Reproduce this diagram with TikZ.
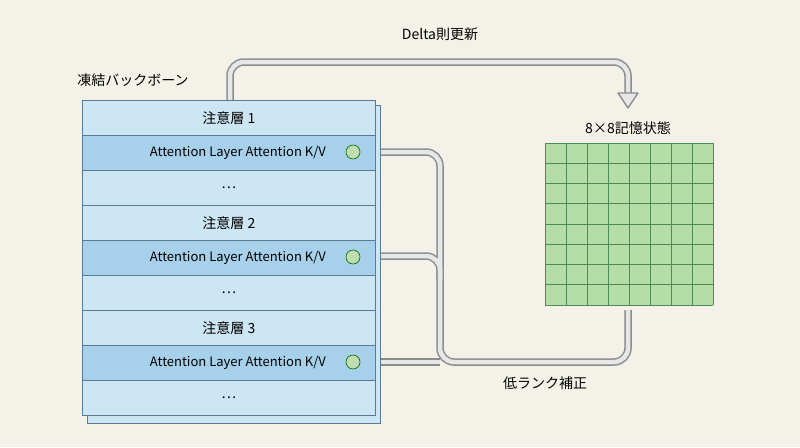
\documentclass[tikz,border=0pt]{standalone}
\usepackage{fontspec}
\setmainfont{Noto Sans CJK JP}
\begin{document}
\begin{tikzpicture}[x=1pt,y=-1pt,
  row/.style={draw=rowline,line width=0.8pt,fill=rowlight,minimum width=293pt,minimum height=35pt,inner sep=0pt,anchor=north west,font=\fontsize{14}{16}\selectfont},
  kv/.style={row,fill=rowdark,font=\fontsize{13}{15}\selectfont},
  dot/.style={circle,draw=green!40!black,fill=dotg,minimum size=14pt,inner sep=0pt,line width=0.6pt},
  lbl/.style={font=\fontsize{14}{16}\selectfont},
  pipeo/.style={line width=7.5pt,color=pipeedge,rounded corners=14pt},
  pipei/.style={line width=4.5pt,color=pipefill,rounded corners=14pt},
  head/.style={draw=pipeedge,fill=pipefill,line width=1.4pt,line join=round}]
\definecolor{bg}{HTML}{F4F2E8}
\definecolor{rowline}{HTML}{5B7B92}
\definecolor{rowlight}{HTML}{CDE6F3}
\definecolor{rowdark}{HTML}{A7D1EB}
\definecolor{dotg}{HTML}{BFDDB0}
\definecolor{gridg}{HTML}{B4DDA8}
\definecolor{gridl}{HTML}{4E8A55}
\definecolor{pipeedge}{HTML}{8A8C8E}
\definecolor{pipefill}{HTML}{E6E7E6}
\fill[bg] (0,0) rectangle (800,447);
% pipes
\draw[pipeo] (230,100) -- (230,62) -- (628,62) -- (628,95);
\draw[pipeo] (628,310) -- (628,362) -- (440,362) -- (440,152) -- (378,152);
\draw[pipeo] (440,280) -- (440,256) -- (378,256);
\draw[pipeo] (440,362) -- (378,362);
\draw[pipei] (230,100) -- (230,62) -- (628,62) -- (628,95);
\draw[pipei] (628,310) -- (628,362) -- (440,362) -- (440,152) -- (378,152);
\draw[pipei] (440,280) -- (440,256) -- (378,256);
\draw[pipei] (440,362) -- (378,362);
\draw[head] (618,93) -- (638,93) -- (628,108) -- cycle;
\foreach \yy in {152,256,362} \draw[head] (378,\yy-10) -- (378,\yy+10) -- (363,\yy) -- cycle;
% stack
\fill[rowlight,draw=rowline,line width=0.8pt] (87,105) rectangle (380,423);
\node[row] (r1) at (82,100) {注意層 1};
\node[kv] (k1) at (82,135) {\hspace*{18pt}Attention Layer Attention K/V};
\node[row] (d1) at (82,170) {…};
\node[row] (r2) at (82,205) {注意層 2};
\node[kv] (k2) at (82,240) {\hspace*{18pt}Attention Layer Attention K/V};
\node[row] (d2) at (82,275) {…};
\node[row] (r3) at (82,310) {注意層 3};
\node[kv] (k3) at (82,345) {\hspace*{18pt}Attention Layer Attention K/V};
\node[row] (d3) at (82,380) {…};
\node[dot] (c1) at (353,152) {};
\node[dot] (c2) at (353,257) {};
\node[dot] (c3) at (353,362) {};
% grid
\fill[gridg] (545,143) rectangle (713,305);
\foreach \i in {0,...,8} {
  \draw[gridl,line width=0.6pt] (545+21*\i,143) -- (545+21*\i,305);
  \draw[gridl,line width=0.6pt] (545,143+20.25*\i) -- (713,143+20.25*\i);
}
% labels
\node[lbl] (t1) at (133,80) {凍結バックボーン};
\node[lbl] (t2) at (440,34) {Delta則更新};
\node[lbl] (t3) at (628,128) {8×8記憶状態};
\node[lbl] (t4) at (545,383) {低ランク補正};
\end{tikzpicture}
\end{document}
